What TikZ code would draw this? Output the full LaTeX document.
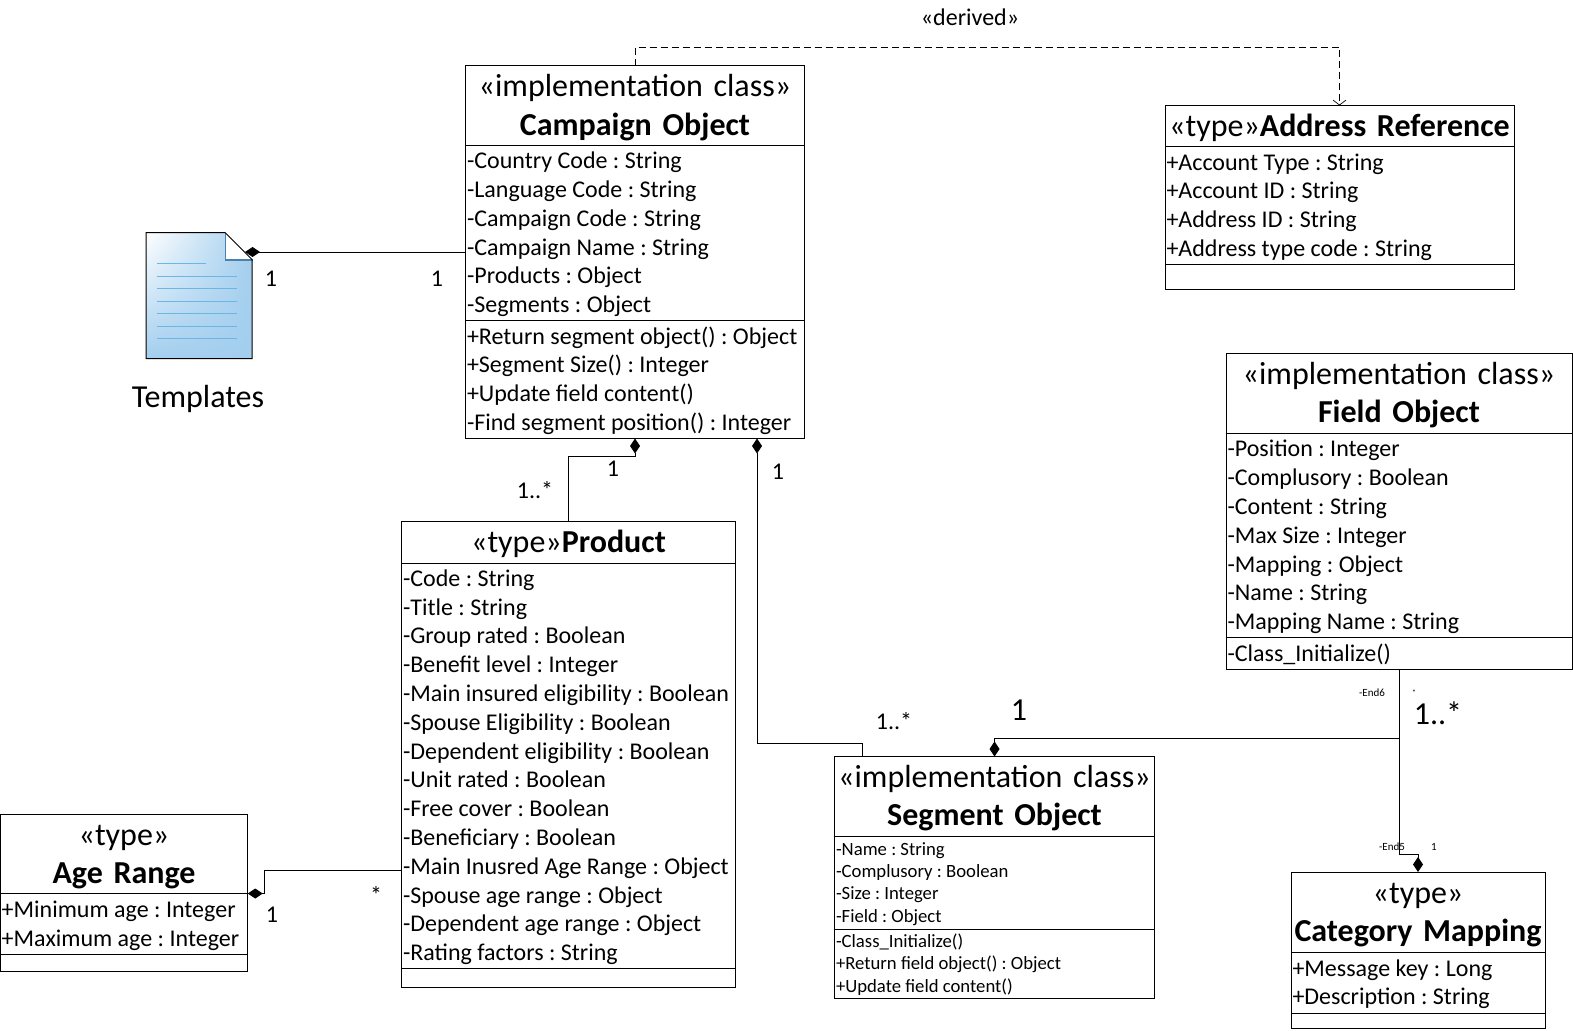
\documentclass[tikz,border=0pt]{standalone}
\usepackage{fontspec}
\setmainfont{Carlito}
\usetikzlibrary{positioning, arrows.meta, shadings}

\definecolor{docblue}{HTML}{A3CEEE}
\definecolor{docline}{HTML}{6AB6E6}
\definecolor{docfold}{HTML}{4A80AC}

\begin{document}
\frenchspacing
\begin{tikzpicture}[
        x=1pt,
        y=-1pt,
        node distance=0pt,
        line width=1pt,
        classhead/.style={draw, anchor=north, align=center, outer sep=0pt, inner xsep=1.5pt, inner ysep=0pt, execute at begin node={\rule{0pt}{0.81em}}, font=\fontsize{32}{38.5}\selectfont},
        classpart/.style={draw, align=flush left, outer sep=0pt, inner xsep=1.5pt, inner ysep=0pt, execute at begin node={\rule{0pt}{0.84em}}, font=\fontsize{24}{28.8}\selectfont},
        smallpart/.style={classpart, font=\fontsize{18.7}{22.3}\selectfont},
        emptypart/.style={draw, outer sep=0pt, inner sep=0pt},
        mult/.style={inner sep=0pt, font=\fontsize{#1}{#1}\selectfont},
        mult/.default=24,
        comp/.style={-{Diamond[length=15pt, width=10pt]}},
        derive/.style={dashed, dash pattern=on 7pt off 4pt, -{Straight Barb[length=5pt, width=13pt, line width=0.7pt]}}
    ]
    \useasboundingbox (0,0) rectangle (1573,1030);

    % campaign object
    \node[classhead, text width=336pt, minimum height=79.5pt] (campaign) at (635,66) {«implementation class»\\\textbf{Campaign Object}};
    \node[classpart, below=of campaign, text width=336pt, minimum height=174.5pt] (campaignattr) {-Country Code : String\\-Language Code : String\\-Campaign Code : String\\-Campaign Name : String\\-Products : Object\\-Segments : Object};
    \node[classpart, below=of campaignattr, text width=336pt, minimum height=118.5pt] (campaignops) {+Return segment object() : Object\\+Segment Size() : Integer\\+Update field content()\\-Find segment position() : Integer};

    % address reference
    \node[classhead, text width=346pt, minimum height=41pt] (address) at (1339.5,105.5) {«type»\textbf{Address Reference}};
    \node[classpart, below=of address, text width=346pt, minimum height=117.5pt] (addressattr) {+Account Type : String\\+Account ID : String\\+Address ID : String\\+Address type code : String};
    \node[emptypart, below=of addressattr, minimum width=349pt, minimum height=25pt] (addressops) {};

    % field object
    \node[classhead, text width=343pt, minimum height=80.5pt] (field) at (1399,353) {«implementation class»\\\textbf{Field Object}};
    \node[classpart, below=of field, text width=343pt, minimum height=203.5pt] (fieldattr) {-Position : Integer\\-Complusory : Boolean\\-Content : String\\-Max Size : Integer\\-Mapping : Object\\-Name : String\\-Mapping Name : String};
    \node[classpart, below=of fieldattr, text width=343pt, minimum height=32pt] (fieldops) {-Class\_Initialize()};

    % product
    \node[classhead, text width=331pt, minimum height=41.5pt] (product) at (568.5,521.5) {«type»\textbf{Product}};
    \node[classpart, below=of product, text width=331pt, minimum height=405pt] (productattr) {-Code : String\\-Title : String\\-Group rated : Boolean\\-Benefit level : Integer\\-Main insured eligibility : Boolean\\-Spouse Eligibility : Boolean\\-Dependent eligibility : Boolean\\-Unit rated : Boolean\\-Free cover : Boolean\\-Beneficiary : Boolean\\-Main Inusred Age Range : Object\\-Spouse age range : Object\\-Dependent age range : Object\\-Rating factors : String};
    \node[emptypart, below=of productattr, minimum width=334pt, minimum height=19pt] (productops) {};

    % age range
    \node[classhead, text width=244.5pt, minimum height=79pt] (age) at (124,814.5) {«type»\\\textbf{Age Range}};
    \node[classpart, below=of age, text width=244.5pt, minimum height=60.5pt] (ageattr) {+Minimum age : Integer\\+Maximum age : Integer};
    \node[emptypart, below=of ageattr, minimum width=247.5pt, minimum height=17pt] (ageops) {};

    % segment object
    \node[classhead, text width=317pt, minimum height=79.5pt] (segment) at (994.5,756.5) {«implementation class»\\\textbf{Segment Object}};
    \node[smallpart, below=of segment, text width=317pt, minimum height=93pt] (segmentattr) {-Name : String\\-Complusory : Boolean\\-Size : Integer\\-Field : Object};
    \node[smallpart, below=of segmentattr, text width=317pt, minimum height=69pt] (segmentops) {-Class\_Initialize()\\+Return field object() : Object\\+Update field content()};

    % category mapping
    \node[classhead, text width=251pt, minimum height=80pt] (category) at (1418,872) {«type»\\\textbf{Category Mapping}};
    \node[classpart, below=of category, text width=251pt, minimum height=61pt] (categoryattr) {+Message key : Long\\+Description : String};
    \node[emptypart, below=of categoryattr, minimum width=254pt, minimum height=15pt] (categoryops) {};

    % templates
    \node[minimum width=106pt, minimum height=125pt, inner sep=0pt] (templates) at (199.5,295.5) {};
    \shade[upper left=white, upper right=docblue, lower left=docblue, lower right=docblue]
        (templates.north west) -- ++(79,0) -- ++(27,27) |- (templates.south west) -- cycle;
    \foreach \y/\e in {263/206, 276/237, 288/237, 301/237, 313/237, 326/237, 338/237}
        \draw[docline, line width=0.8pt] (157,\y) -- (\e,\y);
    \fill[white] (225.5,233) -- (252.5,260) -- (225.5,260) -- cycle;
    \draw[docfold, line width=1.5pt] (225.5,233) -- (225.5,260) -- (252.5,260);
    \draw (templates.north west) -- ++(79,0) -- ++(27,27) |- (templates.south west) -- cycle;
    \node[mult=32] (templateslabel) at (198,399) {Templates};
    \coordinate (templatesend) at (245,252);

    % connectors
    \draw[comp] (campaignattr.west |- templatesend) -- (templatesend);
    \draw[comp] (product.north) -- ++(0,-65.5) -| (campaignops.south);
    \draw[comp] ([xshift=-132pt]segment.north) -- ++(0,-13.5) -| ([xshift=122pt]campaignops.south);
    \draw[comp] ([yshift=-105pt]productattr.west) -- ++(-137,0) |- (age.south east);
    \draw[comp] (fieldops.south) -- ++(0,69) -| (segment.north);
    \draw[comp] (fieldops.south) -- ++(0,185) -| (category.north);
    \draw[derive] (campaign.north) -- ++(0,-18.5) -| (address.north);

    % multiplicities
    \node[mult=24] (derivedlabel) at (970,17) {«derived»};
    \node[mult] (templatesone) at (271,279) {1};
    \node[mult] (campaignone) at (437,279) {1};
    \node[mult] (productone) at (613,469) {1};
    \node[mult] (productmany) at (535,490) {1..*};
    \node[mult] (segmentone) at (778,472) {1};
    \node[mult] (segmentmany) at (894,721) {1..*};
    \node[mult=32] (fieldone) at (1019,710) {1};
    \node[mult=32] (fieldmany) at (1438,713) {1..*};
    \node[mult=11] (endsix) at (1372,693) {-End6};
    \node[mult=8] (enddot) at (1414,693) {*};
    \node[mult=11] (endfive) at (1392,847) {-End5};
    \node[mult=11] (endone) at (1434,847) {1};
    \node[mult=24] (agemany) at (376,895) {*};
    \node[mult] (ageone) at (272,915) {1};
\end{tikzpicture}
\end{document}
